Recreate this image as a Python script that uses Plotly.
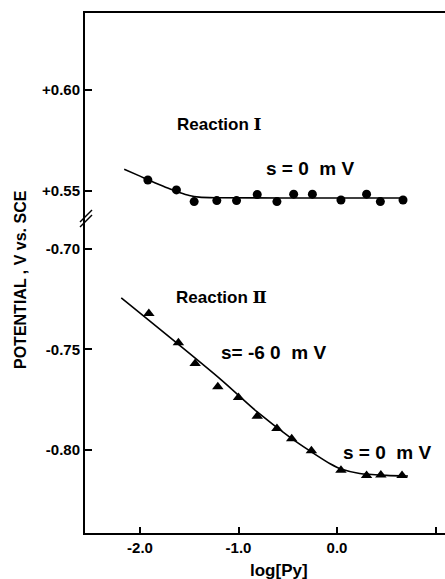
import plotly.graph_objects as go

# Reaction I (circles)
r1_x = [-1.92, -1.63, -1.45, -1.22, -1.02, -0.81, -0.61, -0.44, -0.25, 0.04, 0.30, 0.44, 0.67]
r1_y = [0.5554, 0.5505, 0.5447, 0.5452, 0.5452, 0.5482, 0.5447, 0.5484, 0.5484, 0.5455, 0.5484, 0.5447, 0.5455]
# Reaction I fitted curve
c1_x = [-2.16, -2.0, -1.9, -1.8, -1.7, -1.6, -1.5, -1.4, -1.2, 0.0, 0.67]
c1_y = [0.5607, 0.5573, 0.5551, 0.5530, 0.5510, 0.5492, 0.5477, 0.5469, 0.5466, 0.5465, 0.5465]

# Reaction II (triangles)
r2_x = [-1.91, -1.61, -1.44, -1.21, -1.00, -0.81, -0.61, -0.46, -0.26, 0.04, 0.30, 0.445, 0.66]
r2_y = [-0.7322, -0.7467, -0.7571, -0.7687, -0.7740, -0.7833, -0.7894, -0.7946, -0.8005, -0.8103, -0.8128, -0.8126, -0.8129]
# Reaction II fitted curve
c2_x = [-2.19, -1.19, -0.81, -0.47, -0.26, -0.07, 0.05, 0.23, 0.50, 0.72]
c2_y = [-0.7244, -0.7646, -0.7812, -0.7941, -0.8011, -0.8070, -0.8098, -0.8119, -0.8128, -0.8131]

x_ticks = [-2.0, -1.0, 0.0, 1.0]
x_ticktext = ["-2.0", "-1.0", "0.0", ""]
y_low_ticks = [-0.70, -0.75, -0.80]
y_low_text = ["-0.70", "-0.75", "-0.80"]
y_up_ticks = [0.55, 0.60]
y_up_text = ["+0.55", "+0.60"]

FONT = "Liberation Sans"
W, H = 445, 579
L, R, T, B = 85, 0, 13, 46
PW, PH = W - L - R, H - T - B
brk_py = 220
d = (H - B - brk_py) / PH

fig = go.Figure()
fig.add_trace(go.Scatter(x=c1_x, y=c1_y, mode="lines", line=dict(color="black", width=1.6, shape="spline", smoothing=0.8),
                         xaxis="x2", yaxis="y2", showlegend=False))
fig.add_trace(go.Scatter(x=r1_x, y=r1_y, mode="markers", marker=dict(symbol="circle", size=9, color="black"),
                         xaxis="x2", yaxis="y2", showlegend=False))
fig.add_trace(go.Scatter(x=c2_x, y=c2_y, mode="lines", line=dict(color="black", width=1.6, shape="spline", smoothing=0.8),
                         xaxis="x", yaxis="y", showlegend=False))
fig.add_trace(go.Scatter(x=r2_x, y=r2_y, mode="markers", marker=dict(symbol="triangle-up", size=10, color="black"),
                         xaxis="x", yaxis="y", showlegend=False))

xr = [-2.558, 1.096]
tickfont = dict(family=FONT, size=15, color="black", weight="bold")
fig.update_layout(
    width=W, height=H,
    margin=dict(l=L, r=R, t=T, b=B),
    paper_bgcolor="white", plot_bgcolor="white",
    xaxis=dict(range=xr, domain=[0, 1], anchor="y", tickvals=x_ticks, ticktext=x_ticktext,
               ticks="inside", ticklen=6, tickwidth=1.5, tickcolor="black",
               showline=True, linecolor="black", linewidth=2, showgrid=False, zeroline=False,
               tickfont=tickfont),
    xaxis2=dict(range=xr, domain=[0, 1], anchor="y2", side="top", showticklabels=False, ticks="",
                showline=True, linecolor="black", linewidth=2, showgrid=False, zeroline=False),
    yaxis=dict(range=[-0.8415, -0.6856], domain=[0, d], anchor="x", tickvals=y_low_ticks, ticktext=y_low_text,
               ticks="inside", ticklen=7, tickwidth=1.5, tickcolor="black", ticklabelstandoff=0,
               showline=True, linecolor="black", linewidth=2, showgrid=False, zeroline=False,
               tickfont=tickfont),
    yaxis2=dict(range=[0.5356, 0.638], domain=[d, 1], anchor="x2", tickvals=y_up_ticks, ticktext=y_up_text,
                ticks="inside", ticklen=7, tickwidth=1.5, tickcolor="black", ticklabelstandoff=0,
                showline=True, linecolor="black", linewidth=2, showgrid=False, zeroline=False,
                tickfont=tickfont),
)

def px(x):
    return (x - L) / PW

def py(y):
    return (H - B - y) / PH

# break marks on the y axis
for off in (0, 5):
    fig.add_shape(type="line", xref="paper", yref="paper",
                  x0=px(80), y0=py(227 - off), x1=px(92), y1=py(215 - off),
                  line=dict(color="black", width=1.5))

def ann(text, x, y, size=16, angle=0):
    fig.add_annotation(text=text, xref="paper", yref="paper", x=px(x), y=py(y),
                       showarrow=False, xanchor="center", yanchor="middle", textangle=angle,
                       font=dict(family=FONT, size=size, color="black", weight="bold"))

ann("Reaction <span style='font-family:DejaVu Serif'>I</span>", 219, 124, 17)
ann("Reaction <span style='font-family:DejaVu Serif'>Ⅱ</span>", 221, 297, 17)
ann("s = 0  m V", 310, 168, 19)
ann("s= -6 0  m V", 273, 352, 19)
ann("s = 0  m V", 387, 452, 19)
ann("log[Py]", 279, 570, 17)
ann("POTENTIAL , V vs. SCE", 20, 280, 16, -90)

fig.write_html("out.html")
